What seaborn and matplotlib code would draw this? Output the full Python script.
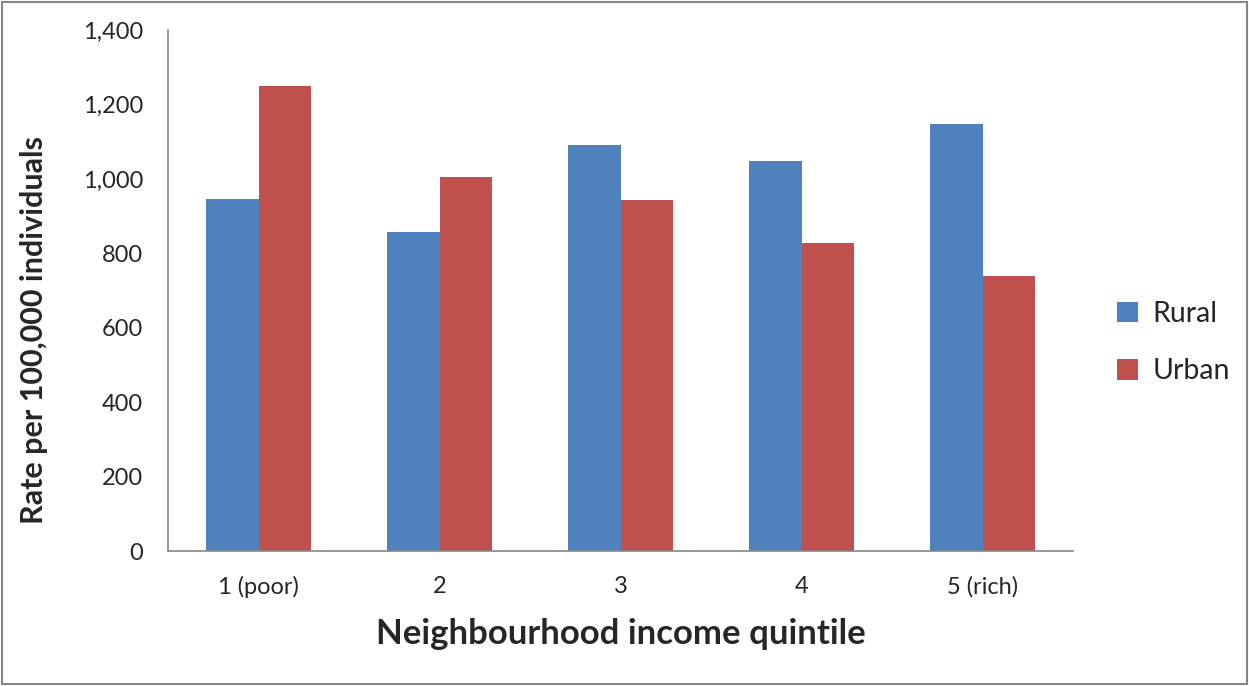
import matplotlib
matplotlib.use("Agg")
import matplotlib.pyplot as plt
import seaborn as sns
import pandas as pd
from matplotlib.ticker import FuncFormatter, FixedLocator

# values
quintiles = ["1 (poor)", "2", "3", "4", "5 (rich)"]
rural = [946, 857, 1091, 1047, 1147]
urban = [1250, 1005, 943, 827, 739]

df = pd.DataFrame({
    "quintile": quintiles * 2,
    "area": ["Rural"] * 5 + ["Urban"] * 5,
    "rate": rural + urban,
})

sns.set_style("white")
plt.rcParams["font.family"] = ["Lato", "DejaVu Sans"]

fig = plt.figure(figsize=(12.49, 6.86), dpi=100)
ax = fig.add_axes([168 / 1249, 1 - 551 / 686, 905 / 1249, 521 / 686])

sns.barplot(data=df, x="quintile", y="rate", hue="area",
            palette={"Rural": "#4F81BD", "Urban": "#C0504D"},
            width=0.575, ax=ax, saturation=1, linewidth=0)

ax.set_ylim(0, 1400)
ax.set_xlim(-0.5, 4.5)
ax.set_yticks(range(0, 1401, 200))
ax.yaxis.set_major_formatter(FuncFormatter(lambda v, p: f"{int(v):,}"))

axis_col = "#868686"
for side in ["top", "right"]:
    ax.spines[side].set_visible(False)
for side in ["left", "bottom"]:
    ax.spines[side].set_color(axis_col)
    ax.spines[side].set_linewidth(1.2)

ax.tick_params(axis="y", direction="out", length=8, width=1.2, color=axis_col,
               labelsize=17, pad=10, labelcolor="#262626")
ax.tick_params(axis="x", which="major", length=0, labelsize=17, pad=18,
               labelcolor="#262626")
ax.xaxis.set_minor_locator(FixedLocator([-0.5, 0.5, 1.5, 2.5, 3.5, 4.5]))
ax.tick_params(axis="x", which="minor", direction="out", length=8, width=1.2,
               color=axis_col)

ax.set_xlabel("Neighbourhood income quintile", fontsize=25, fontweight="bold",
              labelpad=14)
ax.set_ylabel("Rate per 100,000 individuals", fontsize=22, fontweight="bold")
ax.yaxis.set_label_coords(-0.133, 0.424)

ax.legend(loc="center left", bbox_to_anchor=(1.02, 0.40), frameon=False,
          fontsize=20.5, handlelength=0.75, handleheight=0.75, labelspacing=1.1,
          handletextpad=0.5)

# outer chart border
fig.patches.append(plt.Rectangle((0.002, 0.003), 0.996, 0.994,
                                 transform=fig.transFigure, fill=False,
                                 edgecolor="#868686", linewidth=1.5))

fig.savefig("out.png", dpi=100)
